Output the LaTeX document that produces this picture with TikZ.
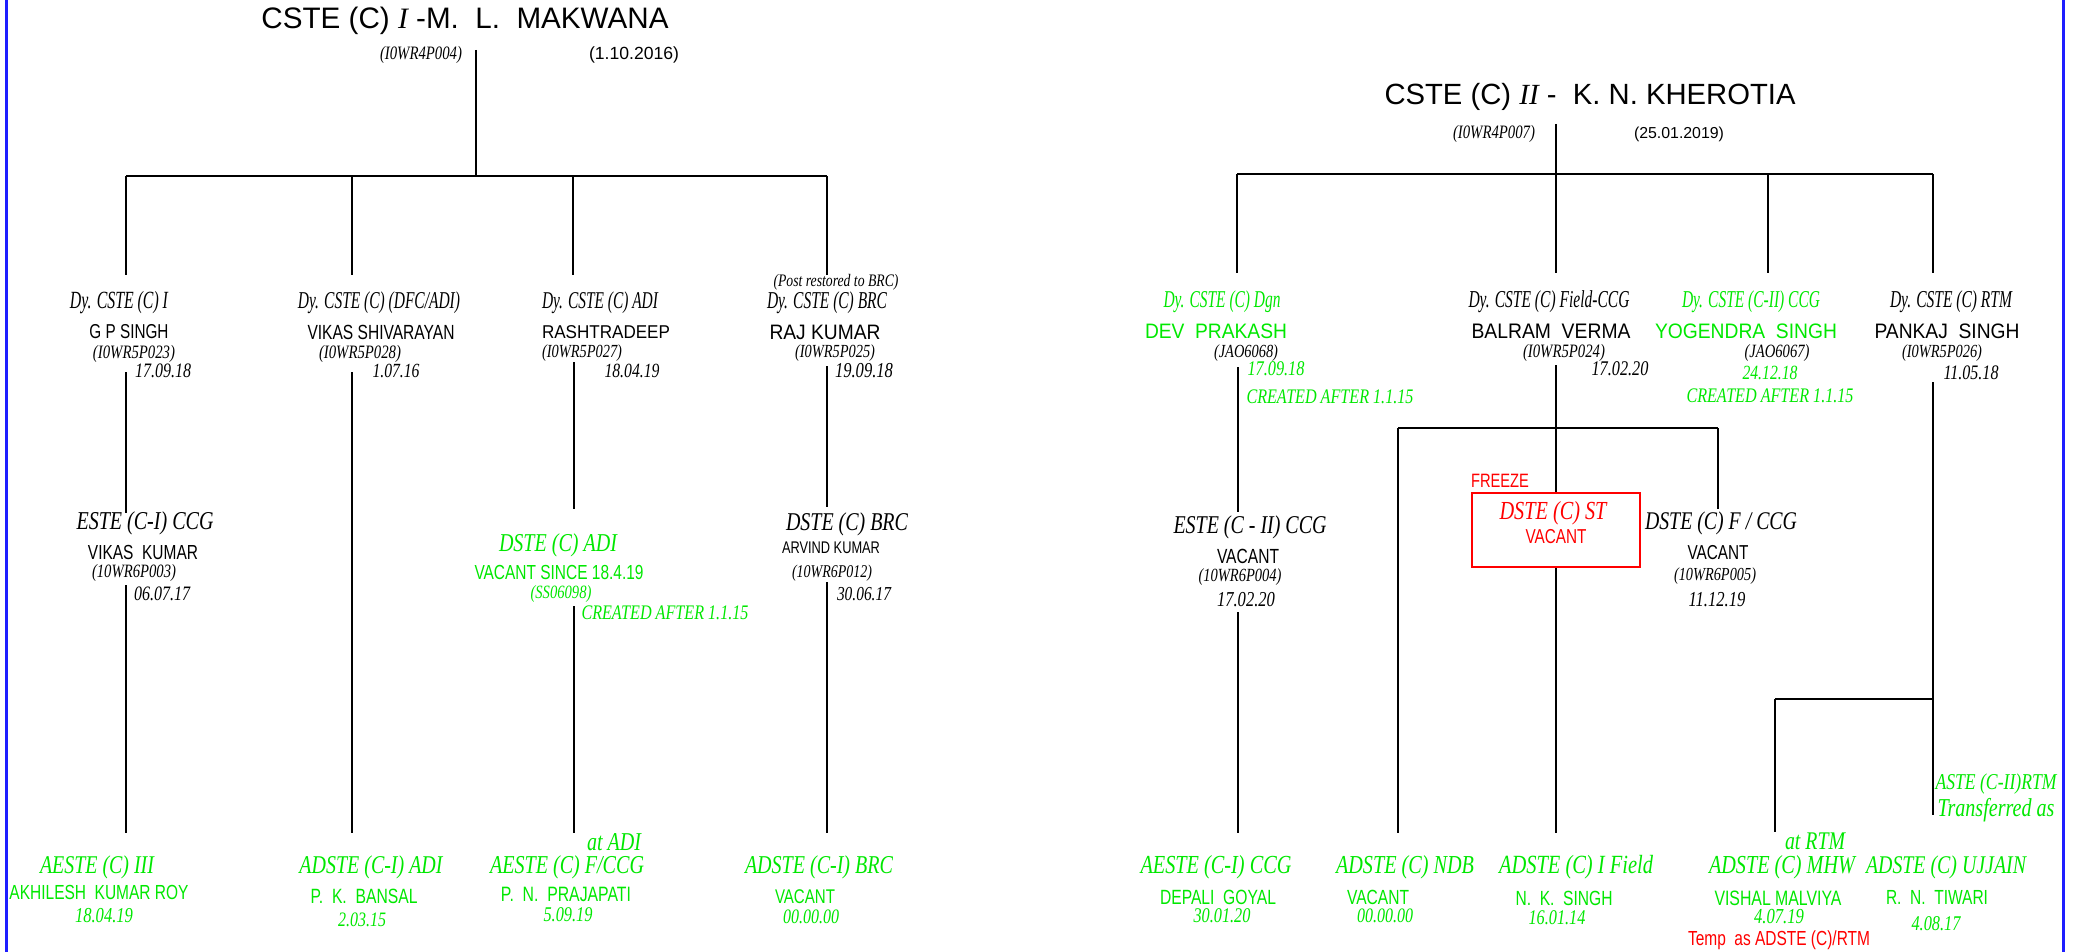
\documentclass[tikz,border=0pt]{standalone}
\usepackage{fontspec}
\usepackage{graphicx}
\setmainfont{Liberation Serif}
\newfontfamily\fT{Liberation Sans}
\newfontfamily\fS{Liberation Sans}
\newfontfamily\fI{Liberation Serif}
\newcommand{\Ti}[2]{\resizebox{#1pt}{!}{\scalebox{0.78}[1]{\fI\itshape\fontsize{20}{20}\selectfont #2}}}
\newcommand{\Th}[2]{\resizebox{#1pt}{!}{\scalebox{0.64}[1]{\fI\itshape\fontsize{20}{20}\selectfont #2}}}
\newcommand{\Ts}[2]{\resizebox{#1pt}{!}{\scalebox{0.92}[1]{\fS\fontsize{20}{20}\selectfont #2}}}
\newcommand{\Tc}[2]{\resizebox{#1pt}{!}{\scalebox{0.76}[1]{\fS\fontsize{20}{20}\selectfont #2}}}
\newcommand{\Tt}[2]{\resizebox{#1pt}{!}{\fT\fontsize{28}{28}\selectfont #2}}
\definecolor{gr}{RGB}{0,232,0}
\definecolor{rd}{RGB}{255,0,0}
\definecolor{bl}{RGB}{30,30,255}
\tikzset{
  tx/.style={inner sep=0pt, anchor=center},
  ln/.style={draw=black, line width=2pt},
  border/.style={draw=bl, line width=3pt},
  gt/.style={tx, text=gr},
  rt/.style={tx, text=rd},
}
\begin{document}
\begin{tikzpicture}[x=1pt, y=-1pt]
\useasboundingbox (0,0) rectangle (2085,952);
\fill[white] (0,0) rectangle (2085,952);
\draw[border] (6,0) -- (6,952);
\draw[border] (2063,0) -- (2063,952);

% ---------------- LEFT TREE ----------------
\node[tx] (ltitle) at (465,21) {\Tt{407}{CSTE (C) {\rmfamily\itshape I} -M.\ \ L.\ \ MAKWANA}};
\node[tx] (lcode) at (421,55) {\Ti{82}{(I0WR4P004)}};
\node[tx] (ldate) at (634,55) {\Tt{90}{(1.10.2016)}};

\coordinate (LrootT) at (476,50);
\coordinate (LrootB) at (476,176);
\coordinate (LbarA) at (126,176);
\coordinate (LbarB) at (352,176);
\coordinate (LbarC) at (573,176);
\coordinate (LbarD) at (827,176);
\coordinate (L1t) at (126,275);
\coordinate (L2t) at (352,275);
\coordinate (L3t) at (573,275);
\coordinate (L4t) at (827,275);
\coordinate (L1a) at (126,372);
\coordinate (L1b) at (126,513);
\coordinate (L1c) at (126,585);
\coordinate (L1d) at (126,833);
\coordinate (L2a) at (352,372);
\coordinate (L2d) at (352,833);
\coordinate (L3a) at (574,362);
\coordinate (L3b) at (574,509);
\coordinate (L3c) at (574,606);
\coordinate (L3d) at (574,833);
\coordinate (L4a) at (827,366);
\coordinate (L4b) at (827,507);
\coordinate (L4c) at (827,582);
\coordinate (L4d) at (827,833);

\draw[ln] (LrootT) -- (LrootB);
\draw[ln] (LbarA) -- (LbarD);
\draw[ln] (LbarA) -- (L1t);
\draw[ln] (LbarB) -- (L2t);
\draw[ln] (LbarC) -- (L3t);
\draw[ln] (LbarD) -- (L4t);
\draw[ln] (L1a) -- (L1b);
\draw[ln] (L1c) -- (L1d);
\draw[ln] (L2a) -- (L2d);
\draw[ln] (L3a) -- (L3b);
\draw[ln] (L3c) -- (L3d);
\draw[ln] (L4a) -- (L4b);
\draw[ln] (L4c) -- (L4d);

% level 1
\node[tx] (a1) at (119,303) {\Th{98}{Dy. CSTE (C) I}};
\node[tx] (a2) at (129,332) {\Tc{79}{G P SINGH}};
\node[tx] (a3) at (134,354) {\Ti{82}{(I0WR5P023)}};
\node[tx] (a4) at (163,371) {\Ti{56}{17.09.18}};

\node[tx] (b1) at (379,303) {\Th{162}{Dy. CSTE (C) (DFC/ADI)}};
\node[tx] (b2) at (381,332) {\Tc{147}{VIKAS SHIVARAYAN}};
\node[tx] (b3) at (360,354) {\Ti{82}{(I0WR5P028)}};
\node[tx] (b4) at (396,371) {\Ti{47}{1.07.16}};

\node[tx] (c1) at (600,303) {\Th{116}{Dy. CSTE (C) ADI}};
\node[tx] (c2) at (606,332) {\Ts{128}{RASHTRADEEP}};
\node[tx] (c3) at (582,353) {\Ti{80}{(I0WR5P027)}};
\node[tx] (c4) at (632,371) {\Ti{55}{18.04.19}};

\node[tx] (d0) at (836,282) {\Ti{125}{(Post restored to BRC)}};
\node[tx] (d1) at (827,303) {\Th{120}{Dy. CSTE (C) BRC}};
\node[tx] (d2) at (825,332) {\Ts{111}{RAJ KUMAR}};
\node[tx] (d3) at (835,353) {\Ti{80}{(I0WR5P025)}};
\node[tx] (d4) at (864,371) {\Ti{58}{19.09.18}};

% level 2
\node[tx] (e1) at (145,523) {\Ti{137}{ESTE (C-I) CCG}};
\node[tx] (e2) at (143,552) {\Tc{110}{VIKAS\ \ KUMAR}};
\node[tx] (e3) at (134,573) {\Ti{84}{(10WR6P003)}};
\node[tx] (e4) at (162,594) {\Ti{56}{06.07.17}};

\node[gt] (f1) at (558,545) {\Ti{118}{DSTE (C) ADI}};
\node[gt] (f2) at (559,572) {\Tc{169}{VACANT SINCE 18.4.19}};
\node[gt] (f3) at (561,594) {\Ti{61}{(SS06098)}};
\node[gt] (f4) at (665,613) {\Ti{167}{CREATED AFTER 1.1.15}};

\node[tx] (g1) at (847,524) {\Ti{122}{DSTE (C) BRC}};
\node[tx] (g2) at (831,548) {\Tc{98}{ARVIND KUMAR}};
\node[tx] (g3) at (832,573) {\Ti{80}{(10WR6P012)}};
\node[tx] (g4) at (864,594) {\Ti{54}{30.06.17}};

% level 3
\node[gt] (h1) at (97,867) {\Ti{114}{AESTE (C) III}};
\node[gt] (h2) at (99,892) {\Tc{179}{AKHILESH\ \ KUMAR ROY}};
\node[gt] (h3) at (104,916) {\Ti{58}{18.04.19}};

\node[gt] (i1) at (371,867) {\Ti{143}{ADSTE (C-I) ADI}};
\node[gt] (i2) at (364,896) {\Tc{107}{P.\ \ K.\ \ BANSAL}};
\node[gt] (i3) at (362,920) {\Ti{48}{2.03.15}};

\node[gt] (j0) at (614,842) {\Ti{54}{at ADI}};
\node[gt] (j1) at (567,867) {\Ti{154}{AESTE (C) F/CCG}};
\node[gt] (j2) at (566,894) {\Tc{130}{P.\ \ N.\ \ PRAJAPATI}};
\node[gt] (j3) at (568,915) {\Ti{49}{5.09.19}};

\node[gt] (k1) at (819,867) {\Ti{148}{ADSTE (C-I) BRC}};
\node[gt] (k2) at (805,897) {\Tc{60}{VACANT}};
\node[gt] (k3) at (811,917) {\Ti{56}{00.00.00}};

% ---------------- RIGHT TREE ----------------
\node[tx] (rtitle) at (1590,97) {\Tt{411}{CSTE (C) {\rmfamily\itshape II}\ -\ \ K. N. KHEROTIA}};
\node[tx] (rcode) at (1494,134) {\Ti{82}{(I0WR4P007)}};
\node[tx] (rdate) at (1679,134) {\Tt{90}{(25.01.2019)}};

\coordinate (RrootT) at (1556,124);
\coordinate (RrootB) at (1556,174);
\coordinate (RbarA) at (1237,174);
\coordinate (RbarC) at (1768,174);
\coordinate (RbarD) at (1933,174);
\coordinate (R1t) at (1237,273);
\coordinate (R2t) at (1556,273);
\coordinate (R3t) at (1768,273);
\coordinate (R4t) at (1933,273);
\coordinate (R1a) at (1238,367);
\coordinate (R1b) at (1238,512);
\coordinate (R1c) at (1238,612);
\coordinate (R1d) at (1238,833);
\coordinate (R2a) at (1556,365);
\coordinate (RjL) at (1398,428);
\coordinate (RjR) at (1718,428);
\coordinate (RLd) at (1398,833);
\coordinate (RRb) at (1718,509);
\coordinate (R2d) at (1556,833);
\coordinate (R4a) at (1933,382);
\coordinate (R4j) at (1933,699);
\coordinate (R4d) at (1933,815);
\coordinate (R4m) at (1775,699);
\coordinate (R4e) at (1775,832);

\node[draw=rd, line width=2pt, minimum width=168pt, minimum height=74pt, inner sep=0pt] (box) at (1556,530) {};

\draw[ln] (RrootT) -- (RrootB);
\draw[ln] (RbarA) -- (RbarD);
\draw[ln] (RbarA) -- (R1t);
\draw[ln] (RrootB) -- (R2t);
\draw[ln] (RbarC) -- (R3t);
\draw[ln] (RbarD) -- (R4t);
\draw[ln] (R1a) -- (R1b);
\draw[ln] (R1c) -- (R1d);
\draw[ln] (R2a) -- (box.north);
\draw[ln] (box.south) -- (R2d);
\draw[ln] (RjL) -- (RjR);
\draw[ln] (RjL) -- (RLd);
\draw[ln] (RjR) -- (RRb);
\draw[ln] (R4a) -- (R4d);
\draw[ln] (R4m) -- (R4j);
\draw[ln] (R4m) -- (R4e);

% level 1
\node[gt] (m1) at (1222,302) {\Th{117}{Dy. CSTE (C) Dgn}};
\node[gt] (m2) at (1216,331) {\Ts{142}{DEV\ \ PRAKASH}};
\node[tx] (m3) at (1246,353) {\Ti{64}{(JAO6068)}};
\node[gt] (m4) at (1276,369) {\Ti{57}{17.09.18}};
\node[gt] (m5) at (1330,397) {\Ti{167}{CREATED AFTER 1.1.15}};

\node[tx] (n1) at (1549,302) {\Th{161}{Dy. CSTE (C) Field-CCG}};
\node[tx] (n2) at (1551,331) {\Ts{159}{BALRAM\ \ VERMA}};
\node[tx] (n3) at (1564,353) {\Ti{82}{(I0WR5P024)}};
\node[tx] (n4) at (1620,369) {\Ti{57}{17.02.20}};

\node[gt] (o1) at (1751,302) {\Th{138}{Dy. CSTE (C-II) CCG}};
\node[gt] (o2) at (1746,331) {\Ts{182}{YOGENDRA\ \ SINGH}};
\node[tx] (o3) at (1777,353) {\Ti{65}{(JAO6067)}};
\node[gt] (o4) at (1770,373) {\Ti{55}{24.12.18}};
\node[gt] (o5) at (1770,396) {\Ti{167}{CREATED AFTER 1.1.15}};

\node[tx] (p1) at (1951,302) {\Th{122}{Dy. CSTE (C) RTM}};
\node[tx] (p2) at (1947,331) {\Ts{145}{PANKAJ\ \ SINGH}};
\node[tx] (p3) at (1942,353) {\Ti{80}{(I0WR5P026)}};
\node[tx] (p4) at (1971,373) {\Ti{55}{11.05.18}};

% level 2
\node[tx] (q1) at (1250,527) {\Ti{153}{ESTE (C - II) CCG}};
\node[tx] (q2) at (1248,556) {\Tc{62}{VACANT}};
\node[tx] (q3) at (1240,577) {\Ti{83}{(10WR6P004)}};
\node[tx] (q4) at (1246,600) {\Ti{58}{17.02.20}};

\node[rt] (s0) at (1500,481) {\Tc{58}{FREEZE}};
\node[rt] (s1) at (1553,513) {\Ti{107}{DSTE (C) ST}};
\node[rt] (s2) at (1556,537) {\Tc{61}{VACANT}};

\node[tx] (u1) at (1721,523) {\Ti{152}{DSTE (C) F / CCG}};
\node[tx] (u2) at (1718,553) {\Tc{61}{VACANT}};
\node[tx] (u3) at (1715,576) {\Ti{82}{(10WR6P005)}};
\node[tx] (u4) at (1717,600) {\Ti{57}{11.12.19}};

\node[gt] (v1) at (1996,784) {\Ti{121}{ASTE (C-II)RTM}};
\node[gt] (v2) at (1996,810) {\Ti{117}{Transferred as}};
\node[gt] (v3) at (1815,841) {\Ti{60}{at RTM}};

% level 3
\node[gt] (w1) at (1216,867) {\Ti{151}{AESTE (C-I) CCG}};
\node[gt] (w2) at (1218,897) {\Tc{116}{DEPALI\ \ GOYAL}};
\node[gt] (w3) at (1222,916) {\Ti{57}{30.01.20}};

\node[gt] (x1) at (1405,867) {\Ti{138}{ADSTE (C) NDB}};
\node[gt] (x2) at (1378,897) {\Tc{62}{VACANT}};
\node[gt] (x3) at (1385,916) {\Ti{56}{00.00.00}};

\node[gt] (y1) at (1576,867) {\Ti{154}{ADSTE (C) I Field}};
\node[gt] (y2) at (1564,898) {\Tc{97}{N.\ \ K.\ \ SINGH}};
\node[gt] (y3) at (1557,918) {\Ti{57}{16.01.14}};

\node[gt] (z1) at (1782,867) {\Ti{146}{ADSTE (C) MHW}};
\node[gt] (z2) at (1778,898) {\Tc{127}{VISHAL MALVIYA}};
\node[gt] (z3) at (1779,917) {\Ti{50}{4.07.19}};
\node[rt] (z4) at (1779,940) {\Tc{182}{Temp\ \ as ADSTE (C)/RTM}};

\node[gt] (zz1) at (1946,867) {\Ti{160}{ADSTE (C) UJJAIN}};
\node[gt] (zz2) at (1937,897) {\Tc{102}{R.\ \ N.\ \ TIWARI}};
\node[gt] (zz3) at (1936,924) {\Ti{49}{4.08.17}};
\end{tikzpicture}
\end{document}
